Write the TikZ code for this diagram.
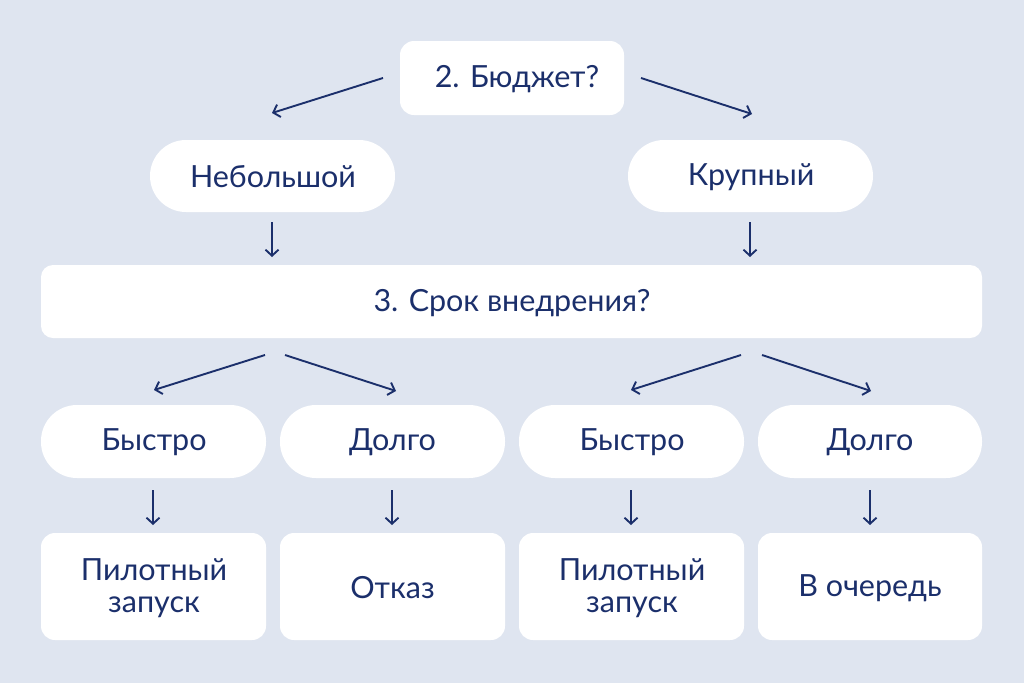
\documentclass[tikz,border=0pt]{standalone}
\usepackage{fontspec}
\setmainfont{Lato}
\usetikzlibrary{arrows.meta}
\definecolor{bg}{HTML}{DFE5F0}
\definecolor{ink}{HTML}{1B2F6B}
\begin{document}
\begin{tikzpicture}[x=1pt,y=-1pt,
  box/.style={fill=white,rounded corners=14pt},
  pill/.style={fill=white,rounded corners=36pt},
  lbl/.style={text=ink,font=\fontsize{30.5}{32}\selectfont,align=center},
  arr/.style={draw=ink,line width=1.9pt,-{Straight Barb[length=6pt,width=13pt,line width=1.9pt]}}]
\fill[bg] (0,0) rectangle (1024,683);
\useasboundingbox (0,0) rectangle (1024,683);
% shapes
\fill[box] (400,41) rectangle (624,115);
\fill[pill] (150,140) rectangle (395,212);
\fill[pill] (628,140) rectangle (873,212);
\fill[box,rounded corners=12pt] (41,265) rectangle (982,338);
\foreach \a/\b in {41/266,280/505,519/744,758/982}{
  \fill[pill] (\a,405) rectangle (\b,478);
  \fill[box] (\a,533) rectangle (\b,640);
}
% labels
\node[lbl] (q2) at (517,79) {2. Бюджет?};
\node[lbl] (small) at (273,177) {Небольшой};
\node[lbl] (big) at (751,177) {Крупный};
\node[lbl] (q3) at (512,303) {3. Срок внедрения?};
\node[lbl] (f1) at (154,442) {Быстро};
\node[lbl] (l1) at (392.5,442) {Долго};
\node[lbl] (f2) at (632,442) {Быстро};
\node[lbl] (l2) at (870,442) {Долго};
\node[lbl] (p1) at (154,588) {Пилотный\\запуск};
\node[lbl] (r1) at (392.5,588) {Отказ};
\node[lbl] (p2) at (632,588) {Пилотный\\запуск};
\node[lbl] (o2) at (870,588) {В очередь};
% arrow anchor coordinates
\coordinate (a1s) at (383,78); \coordinate (a1e) at (272,113);
\coordinate (a2s) at (641,78); \coordinate (a2e) at (752,114);
\coordinate (v1s) at (272,222); \coordinate (v1e) at (272,257);
\coordinate (v2s) at (750,222); \coordinate (v2e) at (750,257);
\coordinate (b1s) at (265,355); \coordinate (b1e) at (154,390);
\coordinate (b2s) at (285,355); \coordinate (b2e) at (396,391);
\coordinate (b3s) at (741,355); \coordinate (b3e) at (631,390);
\coordinate (b4s) at (762,355); \coordinate (b4e) at (871,391);
\draw[arr] (a1s) -- (a1e);
\draw[arr] (a2s) -- (a2e);
\draw[arr] (v1s) -- (v1e);
\draw[arr] (v2s) -- (v2e);
\draw[arr] (b1s) -- (b1e);
\draw[arr] (b2s) -- (b2e);
\draw[arr] (b3s) -- (b3e);
\draw[arr] (b4s) -- (b4e);
\foreach \x/\n in {153/c1,392/c2,631/c3,870/c4}{
  \coordinate (\n s) at (\x,490); \coordinate (\n e) at (\x,525);
  \draw[arr] (\n s) -- (\n e);
}
\end{tikzpicture}
\end{document}
